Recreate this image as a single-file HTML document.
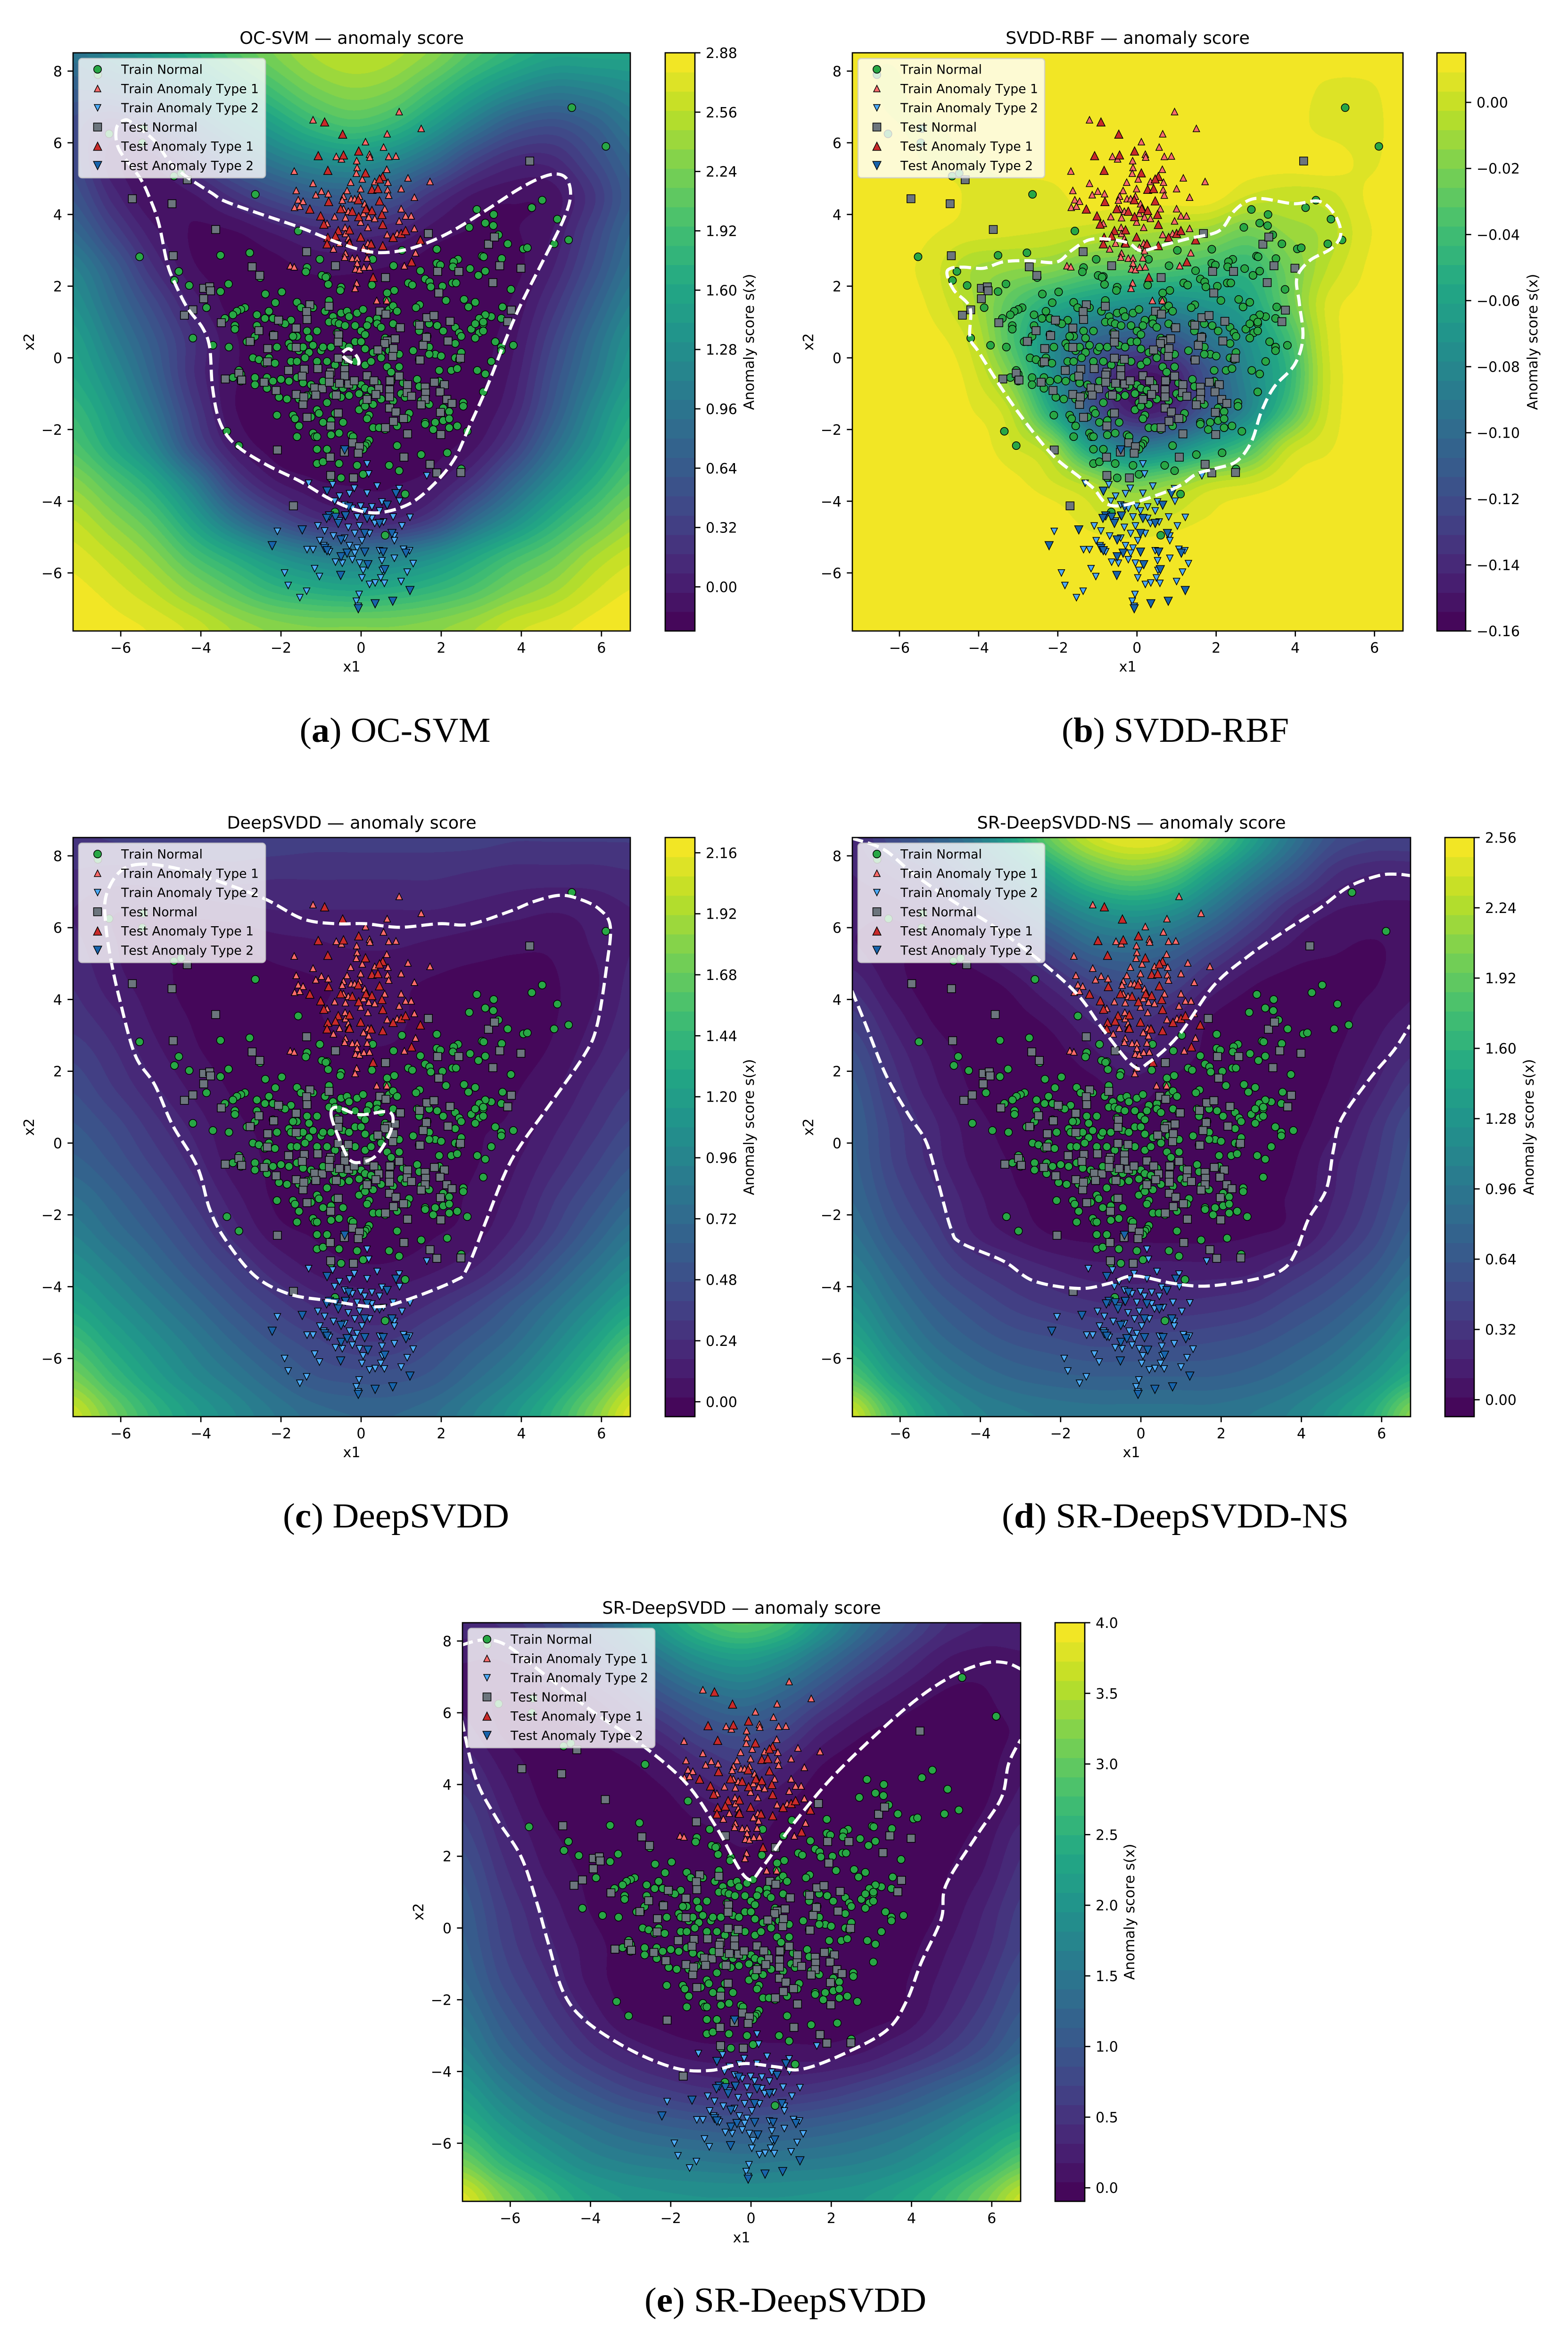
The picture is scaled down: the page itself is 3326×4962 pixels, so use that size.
<!DOCTYPE html>
<html lang="en">
<head>
<meta charset="utf-8">
<title>Anomaly score comparison</title>
<style>
html,body{margin:0;padding:0;background:#fff;}
#page{position:relative;width:3326px;height:4962px;overflow:hidden;background:#fff;}
canvas{position:absolute;display:block;}
#overlay{position:absolute;left:0;top:0;}
text{font-family:"DejaVu Sans","Liberation Sans",sans-serif;fill:#000;font-kerning:none;}
.cap{font-family:"Liberation Serif",serif;font-size:74px;text-anchor:middle;font-kerning:normal;}
.ttl{font-size:36.6px;text-anchor:middle;}
.lab{font-size:30px;text-anchor:middle;}
</style>
</head>
<body>
<div id="page">
<svg id="overlay" width="3326" height="4962" viewBox="0 0 3326 4962">
  <text class="ttl" x="746" y="93">OC-SVM — anomaly score</text>
  <text class="ttl" x="2392" y="93">SVDD-RBF — anomaly score</text>
  <text class="ttl" x="746" y="1757">DeepSVDD — anomaly score</text>
  <text class="ttl" x="2400" y="1757">SR-DeepSVDD-NS — anomaly score</text>
  <text class="ttl" x="1573" y="3422">SR-DeepSVDD — anomaly score</text>

  <text class="lab" x="746" y="1424">x1</text>
  <text class="lab" x="2392" y="1424">x1</text>
  <text class="lab" x="746" y="3090">x1</text>
  <text class="lab" x="2400" y="3090">x1</text>
  <text class="lab" x="1573" y="4755">x1</text>

  <text class="lab" transform="translate(72 725) rotate(-90)">x2</text>
  <text class="lab" transform="translate(1725 725) rotate(-90)">x2</text>
  <text class="lab" transform="translate(72 2390) rotate(-90)">x2</text>
  <text class="lab" transform="translate(1725 2390) rotate(-90)">x2</text>
  <text class="lab" transform="translate(898 4054) rotate(-90)">x2</text>

  <text class="lab" transform="translate(1599 725) rotate(-90)">Anomaly score s(x)</text>
  <text class="lab" transform="translate(3261 725) rotate(-90)">Anomaly score s(x)</text>
  <text class="lab" transform="translate(1599 2390) rotate(-90)">Anomaly score s(x)</text>
  <text class="lab" transform="translate(3253 2390) rotate(-90)">Anomaly score s(x)</text>
  <text class="lab" transform="translate(2406 4054) rotate(-90)">Anomaly score s(x)</text>

  <text class="cap" x="838" y="1573" textLength="405" lengthAdjust="spacingAndGlyphs">(<tspan font-weight="bold">a</tspan>) OC-SVM</text>
  <text class="cap" x="2493" y="1573" textLength="482" lengthAdjust="spacingAndGlyphs">(<tspan font-weight="bold">b</tspan>) SVDD-RBF</text>
  <text class="cap" x="840" y="3239" textLength="480" lengthAdjust="spacingAndGlyphs">(<tspan font-weight="bold">c</tspan>) DeepSVDD</text>
  <text class="cap" x="2493" y="3239" textLength="736" lengthAdjust="spacingAndGlyphs">(<tspan font-weight="bold">d</tspan>) SR-DeepSVDD-NS</text>
  <text class="cap" x="1666" y="4902" textLength="598" lengthAdjust="spacingAndGlyphs">(<tspan font-weight="bold">e</tspan>) SR-DeepSVDD</text>
</svg>
</div>
<script>
/* ---------- axis tick labels ---------- */
const xTicks = [-6,-4,-2,0,2,4,6];
const yTicks = [-6,-4,-2,0,2,4,6,8];
const legendLabels = ["Train Normal","Train Anomaly Type 1","Train Anomaly Type 2","Test Normal","Test Anomaly Type 1","Test Anomaly Type 2"];

/* ---------- sample points (x1, x2) ---------- */
const trainNormal = [[5.26,6.98],[6.11,5.9],[-6.29,6.25],[-6.57,7.9],[-5.43,6.4],[-5.46,6.0],[-4.67,5.07],[-4.49,5.15],[-2.64,4.56],[-1.57,3.54],[-5.53,2.82],[-3.51,2.86],[-2.78,2.93],[-4.55,2.41],[-4.66,2.16],[-4.29,2.02],[-3.31,2.06],[-3.51,1.85],[-2.39,1.78],[-1.98,1.84],[-2.14,1.54],[-3.86,1.4],
[2.89,4.14],[3.31,4.0],[3.1,3.76],[3.3,3.69],[2.7,3.64],[3.43,3.43],[3.66,3.18],[4.05,3.04],[4.15,3.07],[4.26,4.19],[4.52,4.4],[4.9,3.87],[5.18,3.29],[4.82,3.18],[1.89,3.03],[1.02,3.0],[3.02,2.84],[3.06,2.82],[3.51,2.77],[1.89,2.64],[1.98,2.59],[2.42,2.75],[2.31,2.68],[2.29,2.54],[2.72,2.49],[3.1,2.42],[2.93,2.3],[1.48,2.43],[.81,2.57],[.29,2.75],[.27,2.03],[.83,1.88],[.65,1.81],[1.6,2.2],[1.71,2.12],[1.74,1.98],[1.18,2.09],[1.28,2.03],[2.03,2.0],[2.28,2.09],[2.37,2.09],[3.74,1.91],[2.57,1.63],[2.85,1.55],[2.68,1.42],[2.12,1.6],[3.53,1.42],[1.46,1.48],[1.37,1.4],
[-1.03,2.75],[-1.35,2.52],[-1.38,2.4],[-.98,2.3],[-.85,2.27],[-.82,2.05],[-.5,1.97],[-.52,1.88],[-.88,2.25],[-2.52,2.24],
[-2.9,1.4],[-3,1.35],[-3.1,1.3],[-2.6,1.2],[-3.2,1.2],[-3.4,1.1],[-2.4,1.1],[-2.2,1.1],[-2.3,1.3],[-2,1],[-1.6,1.55],[-1.5,1.4],[-1.2,1.4],[-.8,1.6],[-.9,1.3],[-.7,1.15],[-.5,1.25],[-.35,1.3],[-.3,1.15],[-.1,1.25],[.05,1.35],[.4,1.1],[.2,1.05],[.7,1.35],[.8,1.45],[.9,1.3],[.65,1.6],[3.25,1.15],[3.1,1.2],[2.95,1.1],[3.5,1.1],[3.05,.95],
[-3.15,.9],[-3.15,.8],[-2.6,.9],[-2.65,.6],[-1.75,1.05],[-1.9,.95],[-1.35,.75],[-1.6,.6],[-1.3,.55],[-1.1,.75],[-.8,1.0],[-.65,1.0],[-.55,.95],[-.4,.9],[-.6,.7],[-.15,.9],[0,.75],[.15,.9],[.1,.65],[.4,.95],[.5,.85],[.8,.95],[.95,.85],[.6,.55],[.7,.5],[1.4,.95],[1.45,.75],[1.7,.95],[1.9,.9],[2.05,.75],[1.65,.6],[2.35,.85],[2.45,.7],[2.5,.6],[2.75,.8],[2.85,.95],[3.05,1.0],[2.95,.7],[3.05,.75],[2.85,.55],
[-3.3,.3],[-2.85,.45],[-2.75,.45],[-2.2,.65],[-2.1,.3],[-1.8,.4],[-1.7,.6],[-1.75,.3],[-1.55,.2],[-1.45,.3],[-1.3,.15],[-1.2,.35],[-1,.2],[-.95,.3],[-.75,.3],[-.55,.45],[-.45,.35],[-.3,.3],[-.15,.45],[0,.45],[.1,.25],[.3,.15],[.5,.1],[.7,.2],[.95,.1],[1.3,.2],[1.55,.4],[1.7,.3],[1.85,.1],[2,.05],[2.35,.4],[2.5,.15],[2.35,0],[3.35,.45],[3.5,.3],[3.5,.2],[3.8,.35],[-3.7,.35],[-4.2,.55],
[-2.7,0],[-2.55,-.05],[-2.3,0],[-2.4,-.15],[-2.15,-.15],[-1.75,-.1],[-1.6,-.1],[-1.4,0],[-1.1,-.1],[-.85,-.1],[-.65,-.2],[-.4,-.15],[-.15,-.1],[.1,-.2],[.25,-.1],[.5,0],[.65,-.25],[.75,-.4],[.95,-.25],[1.45,-.05],[1.7,.1],[1.95,-.35],[2.25,-.35],[2.4,-.3],[2.45,-.05],[2.9,-.35],[3.1,-.45],[3.25,-.1],[-3.05,-.35],[-3,-.45],
[-3.2,-.55],[-3.0,-.65],[-2.65,-.55],[-2.65,-.75],[-2.35,-.55],[-2.2,-.65],[-2,-.6],[-1.8,-.65],[-1.6,-.55],[-1.45,-.7],[-1.25,-.75],[-.95,-.65],[-.65,-.8],[-.45,-.85],[-.2,-.8],[0,-.75],[.1,-.85],[.25,-.9],[.4,-.7],[.75,-.65],[1.05,-.7],[1.4,-.6],[1.45,-.8],[1.95,-.65],[2.05,-.75],[3.05,-.95],
[-2.35,-.85],[-2.05,-1.1],[-1.85,-1.15],[-1.55,-1.15],[-1.35,-1.05],[-1.2,-.95],[-.85,-1.25],[-.7,-1.05],[-.5,-1.1],[-.3,-1.05],[-.05,-1.0],[.15,-1.1],[.3,-1.3],[.05,-1.25],[.5,-1.15],[.8,-1.2],[1.0,-1.0],[1.1,-1.1],[1.5,-1.2],[2.55,-1.25],[2.55,-1.35],[1.7,-1.3],[2.05,-1.4],[2.2,-1.5],
[-2.1,-1.6],[-1.7,-1.6],[-1.65,-1.7],[-1.55,-1.9],[-1.25,-1.65],[-1.1,-1.45],[-1.05,-1.55],[-.95,-1.8],[-.75,-1.75],[-.65,-1.55],[-.45,-1.8],[-.05,-1.45],[.1,-1.35],[.2,-1.6],[.15,-1.7],[.3,-1.95],[.45,-1.95],[.6,-2],[.9,-1.9],[1.2,-1.55],[1.15,-1.7],[1.6,-1.8],[1.6,-1.85],[1.85,-1.8],[2.05,-1.75],[2.2,-1.7],[2.4,-1.9],[2.65,-2.05],[1.8,-2],[2.2,-1.95],
[-3.35,-2.05],[-3.05,-2.45],[-1.6,-2.2],[-1.2,-2.1],[-1.15,-2.2],[-1.1,-2.2],[-.75,-2.15],[-.55,-2.1],[-.25,-2.15],[-.2,-2.2],[.2,-2.3],[.15,-2.4],[.1,-2.45],[.05,-2.55],[-1.1,-2.55],[-.85,-2.55],[.9,-2.45],[1.5,-2.7],[2.15,-2.65],[.7,-3],[.95,-3.15],[-1.1,-2.95],[-.95,-2.9],[-.55,-2.95],[-.1,-3.0],[.05,-3.25],[-.75,-3.35],[-.5,-3.35],[2.5,-3.1],[1.1,-3.8],[.6,-4.95],[-.65,-4.3]];

const trainAnomaly1 = [[-1.2,6.64],[.95,6.87],[1.5,6.4],[.65,6.25],[.11,6.03],[.56,5.88],[.21,5.68],[.22,5.6],[-.62,5.62],[-.49,5.55],[.69,5.62],[.87,5.63],[-.11,5.5],[-.1,5.31],[-.12,5.15],[-1.67,5.21],[.64,5.26],[1.17,5.02],[1.72,4.92],[-1.2,4.87],[-.26,4.9],[.03,4.99],[.34,4.92],[.67,4.9],[-1.62,4.67],[-1.57,4.41],[-1.45,4.37],[-1.66,4.2],[-1.53,4.23],[-1.13,4.55],[-.99,4.65],[-.82,4.58],[-.01,4.72],[-.35,4.67],[-.44,4.51],[-.47,4.4],[-.25,4.44],[-.16,4.44],[-.04,4.51],[.66,4.69],[.69,4.54],[1,4.72],[1.33,4.48],[1,4.16],[.59,4.16],[1.11,3.96],[1.25,3.96],[.95,3.82],[.09,4.3],[.15,4.16],[.19,3.93],[.06,4.03],[.34,3.89],[-.66,3.94],[-.39,3.91],[-.32,4.09],[-.44,4.16],[-.01,3.79],[.17,3.64],[-.85,3.75],[-.4,3.64],[-.39,3.47],[-.32,3.33],[.65,3.44],[1.33,3.61],[.9,3.47],[-.85,3.2],[-.69,3.04],[-.54,3.2],[-.32,3.2],[-.39,2.92],[-.41,2.81],[-.22,2.78],[-.1,2.78],[.06,3.08],[.17,3.2],[.19,2.99],[.27,3.17],[.15,2.79],[-.1,2.64],[-.14,2.48],[-.04,2.46],[.07,2.53],[.21,2.54],[1.36,2.93],[1.08,2.57],[-1.77,2.57],[-1.67,2.54],[-.11,2.09],[-.15,1.94],[.39,1.6],[.64,1.6]];

const trainAnomaly2 = [[-1.31,-3.5],[.15,-2.96],[-.09,-2.68],[.19,-3.24],[1.64,-3.29],[-.71,-3.54],[-.17,-3.64],[.4,-3.58],[.95,-3.65],[-.29,-3.79],[-.54,-3.86],[.15,-3.78],[-.66,-4.0],[.52,-4.02],[.96,-4.0],[-.41,-4.1],[-.01,-4.14],[.27,-4.16],[-.22,-4.2],[.09,-4.27],[.46,-4.27],[-.41,-4.41],[-.1,-4.44],[.27,-4.48],[.8,-4.44],[1.22,-4.45],[.56,-4.58],[1.02,-4.69],[-1.08,-4.69],[-.54,-4.55],[-.32,-4.73],[-.04,-4.69],[.34,-4.62],[-2.09,-4.84],[-.91,-4.83],[-.69,-4.97],[-.16,-4.9],[.21,-4.9],[.83,-4.97],[-1.03,-5.1],[-.41,-5.03],[.02,-5.1],[.83,-5.1],[-1.35,-5.35],[-1.2,-5.35],[-.93,-5.24],[-.79,-5.41],[-.29,-5.24],[-.1,-5.31],[-.16,-5.45],[.46,-5.38],[1.06,-5.34],[1.21,-5.38],[-.64,-5.7],[-.47,-5.73],[-.22,-5.63],[-.04,-5.73],[.52,-5.66],[.83,-5.59],[1.3,-5.74],[-1.16,-5.88],[.05,-5.93],[.53,-5.93],[1.15,-5.98],[-1.91,-6.0],[-1.04,-6.1],[.02,-6.14],[.49,-6.14],[1,-6.24],[-1.82,-6.35],[.21,-6.32],[.35,-6.28],[.58,-6.29],[-1.36,-6.51],[-1.53,-6.69],[-.05,-6.6],[-.12,-6.79],[-.07,-6.93]];

const testNormal = [[4.21,5.49],[-4.34,4.97],[-5.71,4.44],[-4.72,4.3],[-3.63,3.58],[-4.69,2.85],[-2.72,2.54],[-2.53,2.3],[-1.36,2.96],[-.64,2.57],[.61,2.24],[1.68,3.47],[3.18,3.17],[3.33,3.37],[3.46,2.57],[3.99,2.5],[1.91,2.41],[2.44,2.41],[3.29,2.1],[1.94,1.81],[-3.93,1.94],[-3.78,1.98],[-3.76,1.87],[-3.93,1.65],[-4.2,1.34],[-4.41,1.19],[-3.49,.98],[-2.06,1.05],[-2.55,.76],[-2.18,.62],[-2.77,.46],[-2.33,.26],[-2.34,-.11],[-1.62,.83],[-1.28,1.48],[-1.36,1.29],[-1.35,1.07],[-.8,1.44],[3.75,1.33],[3.66,1.01],[.47,1.3],[.62,1.22],[.98,.84],[1.64,1.12],[1.82,1.18],[1.46,.91],[2.22,1.02],[1.63,.57],[2.17,.47],[1.55,.35],[2.48,-.01],[1.47,-.06],[-.56,.64],[-.57,.44],[-1.62,.29],[.85,.53],[.65,.47],[.59,.4],[.42,.22],[.81,.26],[.79,.04],[-.32,-.04],[-.57,-.01],[-1.42,-.32],[-1.81,-.35],[-1.47,-.51],[-1.08,-.3],[-.76,-.4],[-.79,-.48],[-.41,-.33],[-.41,-.5],[.15,-.5],[.32,-.64],[.72,-.64],[.95,-.51],[-3.05,-.43],[-2.98,-.62],[-3.39,-.59],[-2.42,-.68],[-2.12,-.91],[-1.62,-1.02],[-1.16,-.84],[-.97,-.86],[-1.13,-1.04],[-1.45,-1.3],[-1.43,-1.09],[-1.35,-1.66],[-.79,-.68],[-.54,-.71],[-.31,-.73],[-.17,-.64],[-.62,-1.04],[.15,-1.16],[.44,-.86],[.37,-1.02],[.71,-.89],[.71,-1.09],[1.16,-.75],[1.15,-.97],[1.26,-1.07],[1.6,-.82],[1.61,-.98],[1.6,-1.16],[1.5,-1.31],[1.83,-.68],[2.08,-.75],[1.97,-.95],[2.14,-1.16],[2.27,-1.27],[1.98,-1.52],[.71,-1.4],[.87,-1.51],[1.06,-1.69],[.81,-1.77],[.61,-1.95],[-.57,-1.54],[-.76,-1.9],[1.16,-2.12],[1.99,-2.14],[-2.09,-2.57],[-.21,-2.37],[-.04,-2.48],[-.42,-2.63],[-.07,-2.66],[-.77,-2.77],[1.07,-2.77],[1.72,-2.97],[1.89,-3.21],[2.49,-3.2],[-.76,-3.28],[-.19,-3.35],[-1.69,-4.13]];

const testAnomaly1 = [[-.91,6.58],[-.46,6.24],[-.06,5.77],[-1.07,5.64],[-.44,5.66],[-.83,5.23],[.11,5.16],[.54,5.06],[.46,4.99],[.27,4.7],[.42,4.72],[-.07,4.41],[.46,4.38],[-.81,4.36],[-1.28,4.15],[-1.01,3.96],[-.93,3.73],[-.51,4.16],[-.22,4.09],[.12,4.16],[.27,4.11],[.52,4.0],[-.06,3.94],[.54,3.72],[-.57,3.55],[-.64,3.4],[-.83,3.36],[-.85,3.18],[-.29,3.57],[-.01,3.37],[.8,3.36],[1,3.47],[1.11,3.55],[1.48,3.29],[-.29,3.2],[.25,3.18],[.54,3.13],[1.26,2.68],[.3,2.25]];

const testAnomaly2 = [[-.41,-2.57],[-.85,-3.72],[.87,-3.79],[-.31,-4.16],[.65,-4.11],[-.79,-4.41],[-.86,-4.48],[-.64,-4.45],[-.39,-4.41],[.15,-4.48],[.46,-4.62],[-.57,-4.62],[-1.47,-4.8],[-2.22,-5.24],[-.91,-5.31],[-.85,-5.38],[-.5,-5.08],[.09,-4.9],[.77,-4.9],[-.35,-5.45],[-.5,-5.55],[.09,-5.42],[.55,-5.42],[1.12,-5.45],[.17,-5.77],[.59,-5.91],[-.51,-6.07],[1.22,-6.49],[.79,-6.79],[.35,-6.86],[-.07,-7.0]];

/* ---------- score fields: position on the colour scale (percent), x1 = -7.2…6.8, x2 = 8.5…-7.5, step 1 ---------- */
const fieldOCSVM = [
[38,46,54,62,72,80,87,90,88,82,72,64,58,58,58],
[30,32,40,50,60,70,79,83,80,70,58,48,42,44,48],
[22,14,22,34,46,56,66,71,66,54,40,28,24,30,40],
[22,8,8,18,30,40,47,50,45,34,20,12,12,22,33],
[26,12,4,6,14,22,28,29,25,14,6,4,5,16,30],
[34,20,8,3,3,7,11,12,10,5,3,3,7,20,34],
[44,30,14,4,2,2,4,4,3,2,2,2,10,24,38],
[50,36,22,9,2,2,2,2,2,2,2,4,15,30,44],
[56,42,28,14,4,2,2,2,2,2,2,6,20,36,50],
[60,48,32,14,4,2,2,2,2,2,2,8,24,40,54],
[66,54,38,18,4,2,2,2,2,2,3,11,28,46,60],
[72,60,46,24,8,2,2,2,2,2,6,18,36,52,66],
[82,72,60,42,20,8,4,3,3,6,16,32,48,62,74],
[90,82,72,56,38,24,14,10,10,18,34,48,62,74,84],
[95,90,82,70,60,50,43,40,42,48,58,68,76,86,92],
[98,95,90,82,74,66,62,60,62,66,72,80,86,93,97],
[100,98,96,92,86,82,80,80,80,82,86,92,95,98,100]];
const fieldSVDD = [
[97,97,99,99,99,99,99,99,99,99,99,99,99,99,99],
[99,96,99,99,99,99,99,99,99,99,99,99,96,96,99],
[99,97,96,99,99,99,99,99,99,99,99,99,95,95,99],
[99,99,96,96,99,99,99,99,99,99,99,99,99,96,99],
[99,99,99,96,94,95,99,99,99,99,93,91,92,97,99],
[99,99,97,95,94,93,91,88,86,84,78,84,88,96,99],
[99,98,95,87,84,82,76,74,72,68,66,78,90,97,99],
[99,99,96,88,74,62,55,50,48,52,58,76,94,98,99],
[99,99,98,92,72,50,34,28,26,38,50,68,93,99,99],
[99,99,99,95,80,52,26,8,8,26,46,64,92,99,99],
[99,99,99,97,90,62,30,10,12,30,46,70,93,99,99],
[99,99,99,99,94,86,58,42,46,58,70,90,96,99,99],
[99,99,99,99,98,94,88,78,82,90,93,97,99,99,99],
[99,99,99,99,99,99,95,92,94,97,99,99,99,99,99],
[99,99,99,99,99,99,99,99,99,99,99,99,99,99,99],
[99,99,99,99,99,99,99,99,99,99,99,99,99,99,99],
[99,99,99,99,99,99,99,99,99,99,99,99,99,99,99]];
const fieldDeepSVDD = [
[16,17,18,19,19,19,18,18,18,18,18,17,17,17,17],
[13,12,12,14,15,14,14,14,14,14,13,12,12,12,13],
[10,7,7,8,9,10,10,10,10,10,9,8,7,8,10],
[11,7,5,3,3,5,6,7,7,6,5,4,4,7,10],
[13,8,5,2,1,2,3,4,4,3,2,2,3,6,11],
[15,11,6,3,1,1,3,4,4,2,1,1,3,7,12],
[19,14,8,4,2,1,2,3,3,2,1,2,4,9,14],
[23,17,11,6,3,2,2,2,2,2,2,3,6,12,17],
[27,22,15,9,4,3,2,2,2,2,3,4,9,15,21],
[31,26,19,12,5,3,2,2,2,2,3,6,12,19,26],
[37,31,24,16,8,3,2,2,2,2,4,8,16,24,32],
[43,36,29,21,12,5,3,2,2,3,5,11,20,30,39],
[50,43,35,27,19,11,6,4,4,6,10,18,28,38,47],
[58,50,42,34,26,19,13,10,10,14,20,28,37,47,57],
[68,58,49,41,33,26,21,17,17,22,28,35,45,57,70],
[79,67,56,47,40,33,27,25,25,28,35,43,54,68,84],
[92,78,65,55,47,40,35,33,33,36,43,52,64,80,96]];
const fieldSRNS = [
[12,22,30,40,58,78,92,97,94,76,56,38,24,20,20],
[10,14,20,30,42,58,72,78,72,56,40,26,14,10,10],
[8,8,12,18,28,40,50,54,50,38,24,12,7,6,6],
[7,4,5,7,14,24,34,36,32,22,12,6,4,3,5],
[12,5,2,2,5,12,20,24,20,10,4,2,2,3,6],
[18,9,3,1,2,5,11,15,10,3,1,1,2,5,8],
[24,13,6,2,1,2,6,10,6,2,1,2,3,7,13],
[28,16,8,3,1,1,2,5,2,1,1,2,4,10,18],
[30,19,11,5,2,1,1,2,1,1,1,2,6,14,23],
[31,20,12,6,3,1,1,1,1,1,1,3,9,16,25],
[33,23,15,8,4,2,1,1,1,1,2,4,10,18,27],
[37,27,19,10,6,3,2,2,2,2,3,5,13,21,31],
[43,33,24,17,13,10,8,8,8,8,9,14,20,27,36],
[50,39,30,24,19,16,14,13,14,15,17,22,27,34,44],
[59,46,36,30,26,24,22,22,22,23,25,29,34,42,52],
[72,56,44,37,33,31,30,30,30,30,32,36,42,51,62],
[92,70,54,45,41,39,38,38,38,38,40,44,52,63,82]];
const fieldSR = [
[12,14,20,28,40,55,68,74,68,52,36,24,14,10,10],
[7,7,12,18,28,40,50,54,48,36,24,14,7,5,6],
[6,3,5,9,16,26,34,38,32,22,12,6,3,3,6],
[8,3,2,3,8,14,22,25,20,10,4,2,2,2,4],
[13,6,2,1,2,6,12,16,10,3,1,1,1,2,6],
[18,9,3,1,1,2,6,8,4,1,1,1,1,3,8],
[22,12,5,2,1,1,2,4,2,1,1,1,2,5,12],
[26,15,7,3,1,1,1,2,1,1,1,1,3,7,15],
[29,18,10,4,1,1,1,1,1,1,1,1,4,10,18],
[31,20,12,6,2,1,1,1,1,1,1,2,6,12,20],
[34,23,15,7,2,1,1,1,1,1,1,3,8,15,24],
[39,28,19,11,4,2,1,1,1,1,2,4,11,19,28],
[45,34,25,17,11,7,5,5,5,5,7,12,18,25,34],
[54,43,34,27,21,17,14,13,14,16,20,25,31,38,47],
[64,53,44,38,33,30,28,27,28,30,33,37,43,51,58],
[78,65,55,47,43,41,40,39,40,41,43,47,54,63,74],
[95,80,68,58,53,51,50,50,50,51,53,58,66,78,92]];

/* ---------- decision boundaries (x1, x2) ---------- */
const boundaryOCSVMOuter = [[-6.11,6.39],[-6.04,5.81],[-5.52,5.02],[-5.27,4.44],[-5.05,3.75],[-4.84,2.64],[-4.65,2.09],[-4.34,1.4],[-3.96,.84],[-3.78,.29],[-3.71,-.82],[-3.53,-1.78],[-3.15,-2.41],[-2.4,-2.96],[-1.53,-3.44],[-.79,-3.93],[-.16,-4.23],[.46,-4.32],[1.21,-4.07],[1.83,-3.51],[2.33,-2.82],[2.7,-1.92],[3.14,-.82],[3.58,.43],[3.95,1.4],[4.51,2.64],[5.01,3.75],[5.22,4.44],[5.17,4.92],[4.95,5.12],[4.57,5.06],[3.95,4.72],[3.08,4.09],[2.21,3.5],[1.46,3.13],[.83,2.96],[.21,2.96],[-.54,3.2],[-1.53,3.64],[-2.53,4.02],[-3.4,4.37],[-3.72,4.59],[-4.39,5.08],[-4.78,5.47],[-5.17,6.07],[-5.72,6.56],[-5.92,6.63]];
const boundaryOCSVMInner = [[-.46,.15],[-.29,.25],[-.09,.01],[-.07,-.17],[-.29,-.1],[-.44,.04]];
const boundarySVDD = [[-4.8,2.34],[-4.7,2.5],[-4.37,2.53],[-3.87,2.5],[-3.37,2.68],[-2.74,2.71],[-2.04,2.67],[-1.66,2.99],[-1.22,3.29],[-.71,3.31],[-.21,3.2],[.11,2.99],[.68,3.15],[1.31,3.33],[2.07,3.54],[2.45,4.09],[2.83,4.4],[3.2,4.44],[3.97,4.3],[4.6,4.37],[4.98,4.02],[5.15,3.47],[4.92,3.06],[4.36,2.71],[4.04,2.23],[4.1,1.54],[4.19,.57],[3.98,-.19],[3.46,-.82],[3.14,-1.51],[2.89,-2.34],[2.51,-2.89],[1.94,-3.1],[1.5,-3.24],[1.06,-3.58],[.43,-3.86],[-.33,-4.11],[-.77,-4.07],[-1.09,-3.65],[-1.47,-3.31],[-2.1,-2.75],[-2.73,-1.92],[-3.36,-.95],[-3.99,.15],[-4.22,.57],[-4.22,1.4],[-4.62,1.88]];
const boundaryDeepOuter = [[-5.46,7.77],[-6.02,7.56],[-6.37,6.87],[-6.37,6.04],[-6.24,5.07],[-6.02,3.97],[-5.64,2.45],[-5.15,1.62],[-4.71,.51],[-4.09,-.66],[-3.78,-1.84],[-3.4,-2.67],[-2.65,-3.7],[-1.78,-4.21],[-.79,-4.39],[.34,-4.56],[1.08,-4.39],[2.33,-3.84],[2.64,-3.5],[3.14,-2.11],[3.58,-.87],[3.95,-.11],[4.7,1.06],[5.57,2.45],[5.89,3.28],[6.13,4.93],[6.22,6.04],[5.94,6.52],[5.44,6.8],[4.95,6.9],[4.32,6.73],[3.7,6.45],[2.7,6.09],[1.96,6.11],[.96,6.01],[.09,6.11],[-.66,6.11],[-1.47,6.25],[-2.4,6.8],[-3.53,7.28],[-4.52,7.63]];
const boundaryDeepInner = [[-.75,.79],[-.6,1.0],[-.04,.79],[.71,.86],[.75,.37],[.4,-.32],[.02,-.53],[-.29,-.46],[-.54,.1]];
const boundarySRNSUpper = [[-7.2,8.49],[-6.41,8.18],[-5.66,7.49],[-4.67,6.73],[-3.67,6.04],[-2.43,5.0],[-1.55,4.1],[-.93,3.14],[-.18,2.14],[.19,2.24],[.94,3.0],[1.81,4.38],[2.68,5.21],[3.56,5.89],[4.43,6.52],[5.18,7.14],[5.93,7.45],[6.36,7.49],[6.71,7.45]];
const boundarySRNSLower = [[-7.2,4.24],[-6.85,3.28],[-6.35,1.89],[-5.79,.79],[-5.35,.03],[-5.04,-1.15],[-4.73,-2.39],[-4.48,-2.78],[-3.42,-3.29],[-2.67,-3.84],[-1.55,-4.05],[-.8,-3.91],[-.18,-3.7],[.82,-3.91],[1.69,-3.98],[2.94,-3.77],[3.56,-3.5],[3.87,-3.01],[4.18,-2.11],[4.62,-1.29],[4.8,-.18],[4.99,.65],[5.68,1.76],[6.3,2.58],[6.71,3.28]];
const boundarySRUpper = [[-7.21,7.89],[-6.67,8.03],[-6.11,7.89],[-5.24,7.15],[-3.99,6.07],[-2.74,5.12],[-1.62,4.04],[-.87,2.82],[-.12,1.4],[.31,1.74],[1,2.82],[2,4.17],[3.24,5.52],[4.24,6.47],[5.11,7.08],[5.86,7.39],[6.36,7.39],[6.72,7.22]];
const boundarySRLower = [[-7.21,5.79],[-6.86,4.17],[-6.36,3.09],[-5.74,2.01],[-5.36,.79],[-5.05,-.43],[-4.68,-1.78],[-4.12,-2.59],[-3,-3.4],[-1.87,-3.91],[-1,-3.97],[-.19,-3.78],[.62,-3.87],[1.25,-3.94],[2.25,-3.54],[3.37,-2.86],[3.87,-2.05],[4.24,-.97],[4.74,.25],[4.86,1.2],[5.61,2.55],[6.24,3.63],[6.42,4.58],[6.72,5.25]];

/* ---------- colour-bar ticks ---------- */
const cbTicksA = [0,.32,.64,.96,1.28,1.6,1.92,2.24,2.56,2.88];
const cbTicksB = [-.16,-.14,-.12,-.1,-.08,-.06,-.04,-.02,0];
const cbTicksC = [0,.24,.48,.72,.96,1.2,1.44,1.68,1.92,2.16];
const cbTicksD = [0,.32,.64,.96,1.28,1.6,1.92,2.24,2.56];
const cbTicksE = [0,.5,1,1.5,2,2.5,3,3.5,4];

/* ---------- layout ---------- */
const XMIN=-7.19, XMAX=6.72, YMIN=-7.62, YMAX=8.51;
const panels = [
 {id:'a',L:155,R:1337,T:112,B:1338,cL:1411,cR:1474,vmin:-.238,vmax:2.88,ticks:cbTicksA,dec:2,field:fieldOCSVM,
  lines:[{pts:boundaryOCSVMOuter,closed:true},{pts:boundaryOCSVMInner,closed:true}]},
 {id:'b',L:1808,R:2976,T:112,B:1338,cL:3048,cR:3109,vmin:-.16,vmax:.015,ticks:cbTicksB,dec:2,field:fieldSVDD,
  lines:[{pts:boundarySVDD,closed:true}]},
 {id:'c',L:155,R:1337,T:1776,B:3004,cL:1411,cR:1474,vmin:-.0586,vmax:2.22,ticks:cbTicksC,dec:2,field:fieldDeepSVDD,
  lines:[{pts:boundaryDeepOuter,closed:true},{pts:boundaryDeepInner,closed:true}]},
 {id:'d',L:1808,R:2992,T:1776,B:3004,cL:3065,cR:3127,vmin:-.077,vmax:2.56,ticks:cbTicksD,dec:2,field:fieldSRNS,
  lines:[{pts:boundarySRNSUpper,closed:false},{pts:boundarySRNSLower,closed:false}]},
 {id:'e',L:981,R:2165,T:3441,B:4668,cL:2238,cR:2301,vmin:-.096,vmax:4,ticks:cbTicksE,dec:1,field:fieldSR,
  lines:[{pts:boundarySRUpper,closed:false},{pts:boundarySRLower,closed:false}]}
];
const seriesList = [
 {pts:trainNormal,shape:'circle',size:16.4,fill:'#28a745',name:'train-normal-point'},
 {pts:trainAnomaly1,shape:'up',size:14,fill:'#ff6b6b',name:'train-anomaly-1-point'},
 {pts:trainAnomaly2,shape:'down',size:14,fill:'#4dabf7',name:'train-anomaly-2-point'},
 {pts:testNormal,shape:'square',size:17,fill:'#6c757d',name:'test-normal-point'},
 {pts:testAnomaly1,shape:'up',size:17.5,fill:'#c92a2a',name:'test-anomaly-1-point'},
 {pts:testAnomaly2,shape:'down',size:17.5,fill:'#1864ab',name:'test-anomaly-2-point'}
];

/* ---------- helpers ---------- */
const NS='http://www.w3.org/2000/svg';
const svg=document.getElementById('overlay');
const page=document.getElementById('page');
const BANDS=30;
const viridisStops=['#440154','#482475','#414487','#355f8d','#2a788e','#21918c','#22a884','#44bf70','#7ad151','#bddf26','#fde725'];
const viridisRGB=viridisStops.map(h=>[parseInt(h.slice(1,3),16),parseInt(h.slice(3,5),16),parseInt(h.slice(5,7),16)]);
function viridis(t){
  t=Math.max(0,Math.min(1,t));
  const f=t*10, i=Math.min(9,Math.floor(f)), u=f-i;
  const a=viridisRGB[i], b=viridisRGB[i+1];
  return [a[0]+(b[0]-a[0])*u,a[1]+(b[1]-a[1])*u,a[2]+(b[2]-a[2])*u].map(Math.round);
}
const bandRGB=[];
for(let i=0;i<BANDS;i++) bandRGB.push(viridis((i+.5)/BANDS));
function mk(tag,attrs,parent){
  const el=document.createElementNS(NS,tag);
  for(const k in attrs) el.setAttribute(k,attrs[k]);
  parent.appendChild(el);
  return el;
}
function crWeights(u){
  const u2=u*u,u3=u2*u;
  return [-.5*u3+u2-.5*u,1.5*u3-2.5*u2+1,-1.5*u3+2*u2+.5*u,.5*u3-.5*u2];
}
function clampI(i,n){return i<0?0:(i>=n?n-1:i);}
function drawField(p){
  const w=p.R-p.L,h=p.B-p.T;
  const cv=document.createElement('canvas');
  cv.width=w;cv.height=h;
  cv.style.left=p.L+'px';cv.style.top=p.T+'px';
  
  
  page.insertBefore(cv,svg);
  const ctx=cv.getContext('2d');
  const img=ctx.createImageData(w,h);
  const g=p.field,nr=g.length,nc=g[0].length;
  const xi=new Int32Array(w),xw=[];
  for(let c=0;c<w;c++){
    const x=XMIN+(c+.5)/w*(XMAX-XMIN);
    const gx=x+7.2,i=Math.floor(gx);
    xi[c]=i;xw.push(crWeights(gx-i));
  }
  const v=new Float64Array(nc);
  let o=0;
  for(let r=0;r<h;r++){
    const y=YMAX-(r+.5)/h*(YMAX-YMIN);
    const gy=8.5-y,j=Math.floor(gy),wy=crWeights(gy-j);
    for(let c=0;c<nc;c++){
      let s=0;
      for(let k=0;k<4;k++) s+=wy[k]*g[clampI(j-1+k,nr)][c];
      v[c]=s;
    }
    for(let c=0;c<w;c++){
      const i=xi[c],wx=xw[c];
      let s=0;
      for(let k=0;k<4;k++) s+=wx[k]*v[clampI(i-1+k,nc)];
      let b=Math.floor(s/100*BANDS);
      b=b<0?0:(b>=BANDS?BANDS-1:b);
      const col=bandRGB[b];
      img.data[o++]=col[0];img.data[o++]=col[1];img.data[o++]=col[2];img.data[o++]=255;
    }
  }
  ctx.putImageData(img,0,0);
}
function smoothPath(P,closed){
  const n=P.length;let d='M'+P[0][0].toFixed(1)+' '+P[0][1].toFixed(1);
  const at=i=>closed?P[(i+n)%n]:P[Math.max(0,Math.min(n-1,i))];
  const last=closed?n:n-1;
  for(let i=0;i<last;i++){
    const p0=at(i-1),p1=at(i),p2=at(i+1),p3=at(i+2);
    const c1=[p1[0]+(p2[0]-p0[0])/6,p1[1]+(p2[1]-p0[1])/6];
    const c2=[p2[0]-(p3[0]-p1[0])/6,p2[1]-(p3[1]-p1[1])/6];
    d+='C'+c1[0].toFixed(1)+' '+c1[1].toFixed(1)+' '+c2[0].toFixed(1)+' '+c2[1].toFixed(1)+' '+p2[0].toFixed(1)+' '+p2[1].toFixed(1);
  }
  return closed?d+'Z':d;
}
function drawMarker(parent,shape,size,fill,cx,cy){
  const st={fill:fill,stroke:'#000','stroke-width':1.5};
  let el;
  if(shape==='circle'){
    el=mk('circle',Object.assign({cx:cx.toFixed(1),cy:cy.toFixed(1),r:size/2},st),parent);
  }else if(shape==='square'){
    el=mk('rect',Object.assign({x:(cx-size/2).toFixed(1),y:(cy-size/2).toFixed(1),width:size,height:size},st),parent);
  }else{
    const s=size/2,d=shape==='up'?1:-1;
    const pts=[[cx,cy-d*s],[cx-s,cy+d*s],[cx+s,cy+d*s]].map(q=>q[0].toFixed(1)+','+q[1].toFixed(1)).join(' ');
    el=mk('polygon',Object.assign({points:pts},st),parent);
  }
  return el;
}
function fmtTick(v,dec){
  const s=Math.abs(v).toFixed(dec);
  return (v<0?'\u2212':'')+s;
}

/* ---------- draw ---------- */
const defs=mk('defs',{},svg);
panels.forEach(function(p){
  drawField(p);
  const W=p.R-p.L,H=p.B-p.T;
  const sx=x=>p.L+(x-XMIN)/(XMAX-XMIN)*W;
  const sy=y=>p.T+(YMAX-y)/(YMAX-YMIN)*H;
  const clip=mk('clipPath',{id:'clip-'+p.id},defs);
  mk('rect',{x:p.L,y:p.T,width:W,height:H},clip);

  /* scatter */
  const scatter=mk('g',{'clip-path':'url(#clip-'+p.id+')'},svg);
  
  
  seriesList.forEach(function(s){
    s.pts.forEach(function(q){
      const m=drawMarker(scatter,s.shape,s.size,s.fill,sx(q[0]),sy(q[1]));
      
      
    });
  });

  /* boundary */
  p.lines.forEach(function(l){
    const P=l.pts.map(q=>[sx(q[0]),sy(q[1])]);
    const path=mk('path',{d:smoothPath(P,l.closed),fill:'none',stroke:'#fff','stroke-width':6.6,'stroke-dasharray':'24.5 10.5','clip-path':'url(#clip-'+p.id+')'},svg);
    
    
  });

  /* spine */
  const frame=mk('rect',{x:p.L,y:p.T,width:W,height:H,fill:'none',stroke:'#000','stroke-width':2.67},svg);
  
  

  /* ticks */
  xTicks.forEach(function(v){
    const x=sx(v);
    const t=mk('line',{x1:x,x2:x,y1:p.B,y2:p.B+11.7,stroke:'#000','stroke-width':2.67},svg);
    
    
    const lb=mk('text',{x:x,y:p.B+46,'font-size':30,'text-anchor':'middle'},svg);
    lb.textContent=fmtTick(v,0);
    
    
  });
  yTicks.forEach(function(v){
    const y=sy(v);
    const t=mk('line',{x1:p.L-11.7,x2:p.L,y1:y,y2:y,stroke:'#000','stroke-width':2.67},svg);
    
    
    const lb=mk('text',{x:p.L-23,y:y+11,'font-size':30,'text-anchor':'end'},svg);
    lb.textContent=fmtTick(v,0);
    
    
  });

  /* legend */
  const lg=mk('g',{},svg);
  
  
  const box=mk('rect',{x:p.L+12,y:p.T+12,width:396,height:253,rx:7,ry:7,fill:'#fff','fill-opacity':.8,stroke:'#ccc','stroke-opacity':.8,'stroke-width':2.67},lg);
  
  
  legendLabels.forEach(function(label,i){
    const s=seriesList[i],cy=p.T+35+i*40.8;
    const m=drawMarker(lg,s.shape,s.size,s.fill,p.L+52,cy);
    
    
    const tx=mk('text',{x:p.L+102,y:cy+9.5,'font-size':26.6},lg);
    tx.textContent=label;
    
    
  });

  /* colour bar */
  const cb=mk('g',{'shape-rendering':'crispEdges'},svg);
  
  
  for(let i=0;i<BANDS;i++){
    const y0=p.B-(i+1)/BANDS*H,y1=p.B-i/BANDS*H,c=bandRGB[i];
    const r=mk('rect',{x:p.cL,y:y0.toFixed(2),width:p.cR-p.cL,height:(y1-y0+.6).toFixed(2),fill:'rgb('+c[0]+','+c[1]+','+c[2]+')'},cb);
    
    
  }
  const cbf=mk('rect',{x:p.cL,y:p.T,width:p.cR-p.cL,height:H,fill:'none',stroke:'#000','stroke-width':2.67},svg);
  
  
  p.ticks.forEach(function(v){
    const y=p.B-(v-p.vmin)/(p.vmax-p.vmin)*H;
    const t=mk('line',{x1:p.cR,x2:p.cR+11.7,y1:y,y2:y,stroke:'#000','stroke-width':2.67},svg);
    
    
    const lb=mk('text',{x:p.cR+23,y:y+11,'font-size':30},svg);
    lb.textContent=fmtTick(v,p.dec);
    
    
  });
});
</script>
</body>
</html>
